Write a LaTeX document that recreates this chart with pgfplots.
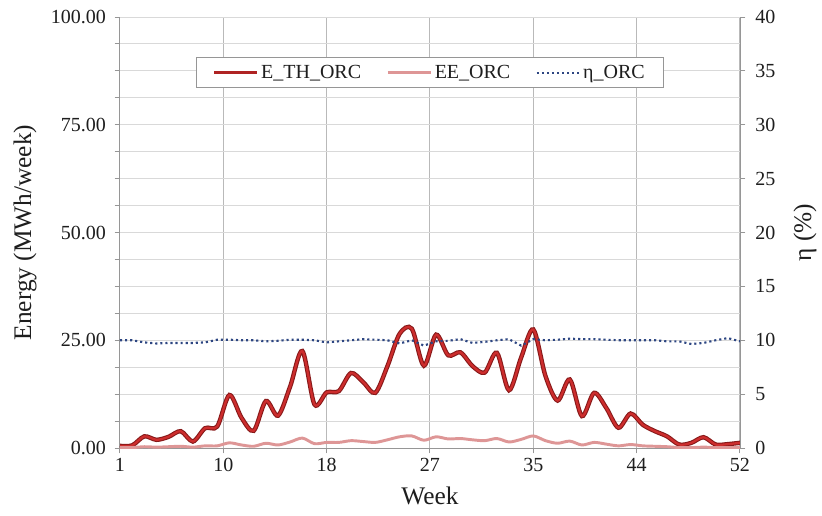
\documentclass[border=0pt]{standalone}
\usepackage{pgfplots}
\pgfplotsset{compat=1.18}
\usepackage{pgfplotstable}
\usepackage{fontspec}
\setmainfont{Liberation Serif}

\definecolor{eth}{RGB}{205,45,45}
\definecolor{ethdark}{RGB}{135,25,25}
\definecolor{ethleg}{RGB}{175,35,35}
\definecolor{ee}{RGB}{222,150,150}
\definecolor{eta}{RGB}{45,70,130}
\definecolor{hgrid}{RGB}{217,217,217}
\definecolor{vgrid}{RGB}{185,185,185}
\definecolor{axc}{RGB}{150,150,150}
\definecolor{txt}{RGB}{30,30,30}

\pgfplotstableread{
w eth ee eta
1 0.5 0.1 10.0
2 0.6 0.1 10.0
3 2.7 0.3 9.8
4 1.9 0.2 9.7
5 2.6 0.3 9.75
6 3.9 0.4 9.75
7 1.5 0.2 9.75
8 4.6 0.5 9.8
9 5.0 0.5 10.05
10 12.3 1.2 10.05
11 7.0 0.7 10.0
12 4.0 0.4 10.0
13 10.9 1.1 9.9
14 7.5 0.7 9.95
15 14.3 1.4 10.05
16 22.5 2.3 10.05
17 10.1 1.0 10.0
18 12.9 1.3 9.8
19 13.2 1.3 9.9
20 17.4 1.7 10.0
21 15.3 1.5 10.1
22 12.8 1.3 10.05
23 19.0 1.9 10.0
24 26.5 2.6 9.7
25 27.7 2.8 10.0
26 19.1 1.8 9.5
27 26.3 2.6 9.9
28 21.5 2.1 9.95
29 22.2 2.2 10.1
30 19.0 1.9 9.75
31 17.5 1.7 9.85
32 22.1 2.2 10.0
33 13.4 1.4 10.1
34 21.0 2.0 9.5
35 27.5 2.8 10.1
36 16.7 1.7 10.0
37 11.0 1.1 10.05
38 15.9 1.6 10.15
39 7.4 0.7 10.1
40 12.8 1.3 10.1
41 9.3 0.9 10.05
42 4.7 0.5 10.0
43 8.0 0.8 10.0
44 5.4 0.5 10.0
45 3.9 0.4 10.0
46 2.7 0.3 9.9
47 0.8 0.1 9.9
48 1.2 0.1 9.65
49 2.5 0.2 9.75
50 0.8 0.1 10.0
51 0.9 0.1 10.2
52 1.2 0.1 9.9
}\data

\tikzset{
  ethstyle/.style={eth, line width=1.7pt, preaction={draw, ethdark, line width=3.3pt}},
  eestyle/.style={ee, line width=2.2pt},
  etastyle/.style={eta, line width=1.6pt, dash pattern=on 1.6pt off 2.2pt},
}

\begin{document}
\begin{tikzpicture}
\useasboundingbox (-90pt,-50.25pt) rectangle (526.5pt,336pt);
\begin{axis}[
  at={(0,0)}, anchor=south west,
  scale only axis, width=465pt, height=323.25pt,
  xmin=1, xmax=52, ymin=0, ymax=100,
  axis x line*=bottom, axis y line*=left,
  axis line style={draw=axc, line width=0.75pt, -},
  xtick={1,9.5,18,26.5,35,43.5,52},
  xticklabels={1,10,18,27,35,44,52},
  ytick={0,25,50,75,100},
  minor ytick={6.25,12.5,18.75,31.25,37.5,43.75,56.25,62.5,68.75,81.25,87.5,93.75},
  /pgf/number format/assume math mode=true,
  yticklabel={\pgfmathprintnumber[fixed,fixed zerofill,precision=2]{\tick}},
  xmajorgrids, ymajorgrids, yminorgrids,
  x grid style={draw=vgrid, line width=0.75pt},
  y grid style={draw=hgrid, line width=0.75pt},
  minor grid style={draw=hgrid, line width=0.75pt},
  tick align=outside, major tick length=4pt, minor tick length=4pt,
  tick style={draw=axc, line width=0.75pt},
  ticklabel style={font=\fontsize{15}{18}\selectfont, text=txt},
  yticklabel style={xshift=-3pt},
  xlabel={Week},
  xlabel style={at={(axis description cs:0.5,-0.111)}, anchor=center, font=\fontsize{19}{22}\selectfont, text=txt},
  ylabel={Energy (MWh/week)},
  ylabel style={at={(axis description cs:-0.153,0.5)}, anchor=center, font=\fontsize{19}{22}\selectfont, text=txt},
  legend columns=3,
  legend image code/.code={\draw[#1] (0pt,0pt) -- (32pt,0pt);},
  legend style={at={(axis description cs:0.5,0.871)}, anchor=center,
    draw=axc, line width=0.75pt, fill=white,
    font=\fontsize{15}{18}\selectfont, text=txt,
    inner xsep=12pt, inner ysep=3.5pt,
    /tikz/every even column/.append style={column sep=17pt}},
]
\addplot[ethstyle, smooth, forget plot] table[x=w, y=eth] {\data};
\addplot[eestyle, smooth, forget plot] table[x=w, y=ee] {\data};
\addlegendimage{ethleg, line width=2.4pt}
\addlegendentry{E\_TH\_ORC}
\addlegendimage{eestyle}
\addlegendentry{EE\_ORC}
\addlegendimage{etastyle}
\addlegendentry{η\_ORC}
\end{axis}
\begin{axis}[
  at={(0,0)}, anchor=south west,
  scale only axis, width=465pt, height=323.25pt,
  xmin=1, xmax=52, ymin=0, ymax=40,
  axis x line=none, axis y line*=right,
  axis line style={draw=axc, line width=0.75pt, -},
  ytick={0,5,...,40},
  /pgf/number format/assume math mode=true,
  tick align=outside, major tick length=4pt,
  tick style={draw=axc, line width=0.75pt},
  ticklabel style={font=\fontsize{15}{18}\selectfont, text=txt},
  yticklabel style={xshift=4pt},
  ylabel={η (\%)},
  ylabel style={at={(axis description cs:1.105,0.5)}, anchor=center, font=\fontsize{19}{22}\selectfont, text=txt},
]
\addplot[etastyle] table[x=w, y=eta] {\data};
\end{axis}
\end{tikzpicture}
\end{document}
